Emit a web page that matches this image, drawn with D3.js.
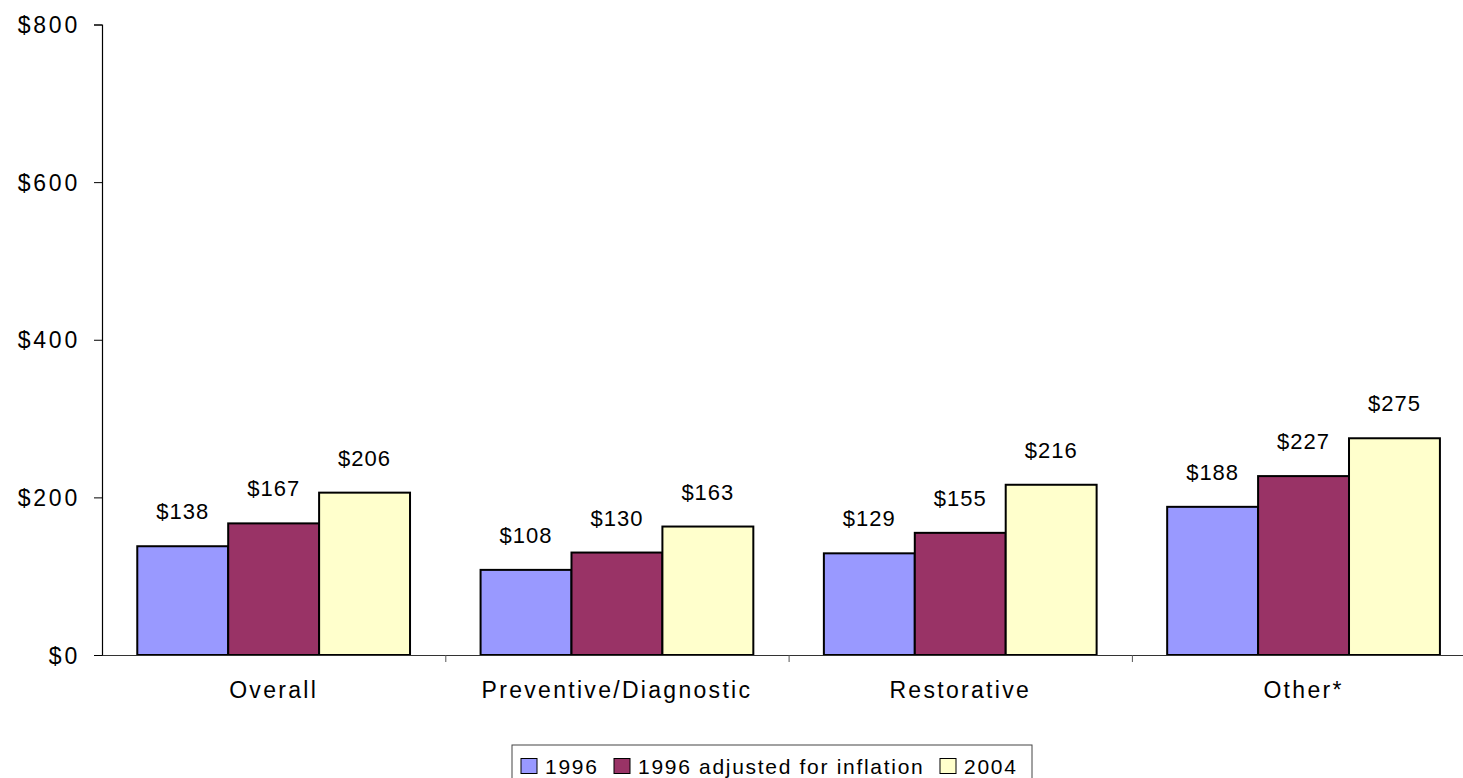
<!DOCTYPE html>
<html>
<head>
<meta charset="utf-8">
<script src="https://cdn.jsdelivr.net/npm/d3@7/dist/d3.min.js"></script>
<style>
  html, body { margin: 0; padding: 0; background: #fff; }
  svg { display: block; font-family: "Liberation Sans", Arial, sans-serif; }
</style>
</head>
<body>
<svg id="chart" width="1463" height="778"></svg>
<script>
const categories = ["Overall", "Preventive/Diagnostic", "Restorative", "Other*"];
const seriesNames = ["1996", "1996 adjusted for inflation", "2004"];
const values1996 = [138, 108, 129, 188];
const valuesAdjusted = [167, 130, 155, 227];
const values2004 = [206, 163, 216, 275];
const yTicks = [0, 200, 400, 600, 800];
const colors = ["#9999FF", "#993366", "#FFFFCC"];

const seriesValues = [values1996, valuesAdjusted, values2004];
const rows = categories.map((c, i) => ({
  category: c,
  values: seriesNames.map((s, j) => ({ series: s, value: seriesValues[j][i], color: colors[j] }))
}));

const svg = d3.select("#chart");
const plotLeft = 102, plotTop = 24.5, plotBottom = 655;
const step = 343.3;
const plotRight = plotLeft + step * categories.length;

const y = d3.scaleLinear().domain([0, 800]).range([plotBottom, plotTop]);
const x0 = d3.scaleBand().domain(categories).range([plotLeft, plotRight]).padding(0);
const x1 = d3.scaleBand().domain(seriesNames).range([0, x0.bandwidth()]).paddingInner(0).paddingOuter(0.388);

// Bars
const groups = svg.append("g").selectAll("g").data(rows).join("g")
  .attr("transform", d => `translate(${x0(d.category)},0)`);

groups.selectAll("rect").data(d => d.values).join("rect")
  .attr("x", d => x1(d.series))
  .attr("y", d => y(d.value))
  .attr("width", x1.bandwidth())
  .attr("height", d => y(0) - y(d.value))
  .attr("fill", d => d.color)
  .attr("stroke", "#000")
  .attr("stroke-width", 2);

groups.selectAll("text.lbl").data(d => d.values).join("text")
  .attr("class", "lbl")
  .attr("x", d => x1(d.series) + x1.bandwidth() / 2)
  .attr("y", d => y(d.value) - 27)
  .attr("text-anchor", "middle")
  .attr("font-size", 22)
  .attr("letter-spacing", 1)
  .attr("fill", "#000")
  .text(d => "$" + d.value);

// Y axis
const yAxis = svg.append("g").attr("transform", `translate(${plotLeft},0)`)
  .call(d3.axisLeft(y).tickValues(yTicks).tickFormat(d => "$" + d).tickSize(8).tickPadding(14));
yAxis.select(".domain").attr("stroke", "#000").attr("stroke-width", 1.2);
yAxis.selectAll(".tick line").attr("stroke", "#000");
yAxis.selectAll(".tick text")
  .attr("font-size", 23).attr("letter-spacing", 2.8)
  .attr("font-family", "Liberation Sans, Arial, sans-serif")
  .attr("fill", "#000").attr("dy", "0.35em");

// X axis: line and labels at category centres
const xAxis = svg.append("g").attr("transform", `translate(0,${plotBottom})`)
  .call(d3.axisBottom(x0).tickSize(0).tickPadding(27));
xAxis.select(".domain").attr("stroke", "#333").attr("stroke-width", 1.2);
xAxis.selectAll(".tick text")
  .attr("font-size", 23).attr("letter-spacing", 2.3)
  .attr("font-family", "Liberation Sans, Arial, sans-serif")
  .attr("fill", "#000").attr("dy", "0.71em");

// Boundary ticks between categories
const xb = d3.scaleLinear().domain([0, categories.length]).range([plotLeft, plotRight]);
const xTicks = svg.append("g").attr("transform", `translate(0,${plotBottom})`)
  .call(d3.axisBottom(xb).tickValues(d3.range(1, categories.length)).tickFormat("").tickSize(7));
xTicks.select(".domain").remove();
xTicks.selectAll(".tick line").attr("stroke", "#555");

// Legend
const legend = svg.append("g");
legend.append("rect")
  .attr("x", 512).attr("y", 745).attr("width", 520).attr("height", 45)
  .attr("fill", "#fff").attr("stroke", "#444").attr("stroke-width", 1);

const legendX = [521, 614, 940];
seriesNames.forEach((s, i) => {
  const g = legend.append("g").attr("transform", `translate(${legendX[i]},758.5)`);
  g.append("rect").attr("x", 0).attr("y", 0).attr("width", 16).attr("height", 15)
    .attr("fill", colors[i]).attr("stroke", "#000").attr("stroke-width", 1);
  g.append("text").attr("x", 24).attr("y", 15)
    .attr("font-size", 21).attr("letter-spacing", 1.7)
    .attr("fill", "#000").text(s);
});
</script>
</body>
</html>
